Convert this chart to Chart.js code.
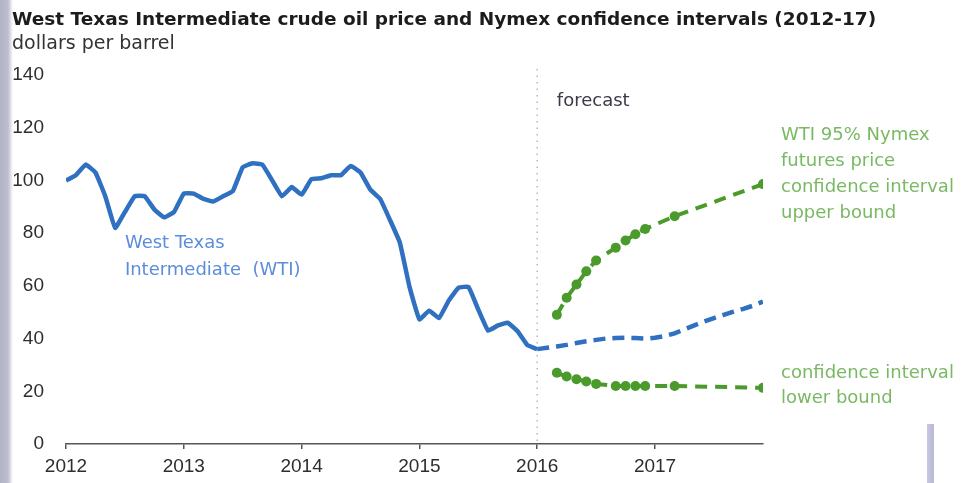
<!DOCTYPE html>
<html>
<head>
<meta charset="utf-8">
<title>WTI crude oil price and Nymex confidence intervals</title>
<script src="https://cdn.jsdelivr.net/npm/chart.js@4.4.1/dist/chart.umd.min.js"></script>
<style>
  html, body { margin: 0; padding: 0; }
  body {
    width: 963px; height: 483px; overflow: hidden;
    background: linear-gradient(to right, #b3b3c6 0, #bdbdcf 8px, #e4e4ec 11px, #ffffff 13px);
  }
  #wrap { position: relative; width: 963px; height: 483px; }
  #scanEdge {
    position: absolute; left: 927px; top: 424px; width: 7px; height: 59px;
    background: linear-gradient(to right, #c8c8e0, #b8b8d8);
  }
</style>
</head>
<body>
<div id="wrap">
  <canvas id="oilChart"></canvas>
  <div id="scanEdge"></div>
</div>
<script>
// --- data (monthly, Jan 2012 = index 0) ---
const yearLabels = ['2012', '2013', '2014', '2015', '2016', '2017'];
const yTicks = [0, 20, 40, 60, 80, 100, 120, 140];

// history, Jan 2012 .. Jan 2016
const wtiHistory = [
  100, 102, 106, 103, 94, 82, 88, 94, 94, 89, 86, 88,
  95, 95, 93, 92, 94, 96, 105, 106.5, 106, 100, 94, 97.5,
  94.6, 100.5, 100.8, 102, 102, 105.5, 103, 96.5, 93, 85, 76.5, 59.5,
  47.3, 50.6, 47.8, 54.5, 59.3, 59.6, 51, 43, 45, 46, 42.8, 37.5,
  36
];
// forecast, Jan 2016 .. Dec 2017
const wtiForecast = [
  36, 36.5, 37, 37.6, 38.3, 39, 39.5, 40, 40.2, 40.3, 40.2, 40,
  40.3, 41, 42, 43.5, 45, 46.5, 47.8, 49, 50.2, 51.3, 52.5, 54
];
const forecastStart = 48;

// Nymex 95% confidence interval, only the marked months
const ciMonths = [50, 51, 52, 53, 54, 56, 57, 58, 59, 62, 71];
const ciUpper = [49, 55.5, 60.5, 65.5, 69.6, 74.5, 77.2, 79.6, 81.6, 86.4, 98.6];
const ciLower = [27, 25.6, 24.6, 23.7, 22.8, 22, 22, 22, 22, 22, 21.3];

const blue = '#2f70c0';
const green = '#4a9a2c';

const toPoints = (xs, ys) => ys.map((v, i) => ({ x: xs[i], y: v }));
const histPoints = wtiHistory.map((v, i) => ({ x: i, y: v }));
const forePoints = wtiForecast.map((v, i) => ({ x: forecastStart + i, y: v }));

// titles, annotations and the dotted "forecast" divider
const decorations = {
  id: 'decorations',
  beforeDatasetsDraw(chart) {
    const { ctx, chartArea, scales } = chart;
    const x = scales.x.getPixelForValue(forecastStart);
    ctx.save();
    ctx.strokeStyle = '#b8b8b8';
    ctx.lineWidth = 1.5;
    ctx.setLineDash([1.5, 5]);
    ctx.beginPath();
    ctx.moveTo(x, chartArea.top - 6);
    ctx.lineTo(x, chartArea.bottom);
    ctx.stroke();
    ctx.restore();
  },
  afterDraw(chart) {
    const { ctx, chartArea, scales } = chart;
    const xs = scales.x, ys = scales.y;
    ctx.save();
    ctx.textBaseline = 'middle';
    ctx.textAlign = 'left';

    ctx.fillStyle = '#1c1c1c';
    ctx.font = 'bold 18.5px "DejaVu Sans"';
    ctx.fillText('West Texas Intermediate crude oil price and Nymex confidence intervals (2012-17)', 12, 20);
    ctx.fillStyle = '#333333';
    ctx.font = '19px "DejaVu Sans"';
    ctx.fillText('dollars per barrel', 12, 44);

    ctx.font = '18px "DejaVu Sans"';
    ctx.fillStyle = '#3a3a48';
    ctx.fillText('forecast', xs.getPixelForValue(50), ys.getPixelForValue(130));

    ctx.fillStyle = '#5b8ddb';
    let bx = xs.getPixelForValue(6), by = ys.getPixelForValue(76);
    ctx.fillText('West Texas', bx, by);
    ctx.fillText('Intermediate  (WTI)', bx, by + 27);

    ctx.fillStyle = '#79b964';
    const gx = chartArea.right + 18;
    let gy = ys.getPixelForValue(117);
    ['WTI 95% Nymex', 'futures price', 'confidence interval', 'upper bound'].forEach((t, i) => {
      ctx.fillText(t, gx, gy + i * 25.8);
    });
    gy = ys.getPixelForValue(27);
    ['confidence interval', 'lower bound'].forEach((t, i) => {
      ctx.fillText(t, gx, gy + i * 25);
    });
    ctx.restore();
  }
};

const tickFont = { family: '"Liberation Sans", Arial, sans-serif', size: 19 };

new Chart(document.getElementById('oilChart'), {
  type: 'line',
  data: {
    datasets: [
      { label: 'WTI', data: histPoints, borderColor: blue, borderWidth: 4.5, pointRadius: 0,
        tension: 0.1 },
      { label: 'WTI forecast', data: forePoints, borderColor: blue, borderWidth: 4.5,
        borderDash: [12, 7], pointRadius: 0 },
      { label: 'upper bound', data: toPoints(ciMonths, ciUpper), borderColor: green, borderWidth: 4,
        borderDash: [12, 8], pointRadius: 5, pointBackgroundColor: green, pointBorderWidth: 0 },
      { label: 'lower bound', data: toPoints(ciMonths, ciLower), borderColor: green, borderWidth: 4,
        borderDash: [12, 8], pointRadius: 5, pointBackgroundColor: green, pointBorderWidth: 0 }
    ]
  },
  options: {
    responsive: true,
    maintainAspectRatio: false,
    animation: false,
    devicePixelRatio: 1,
    layout: { padding: { left: 12, right: 200, top: 75, bottom: 5 } },
    plugins: { legend: { display: false }, tooltip: { enabled: false } },
    scales: {
      x: {
        type: 'linear', min: 0, max: 71,
        grid: { display: true, drawOnChartArea: false, tickLength: 5, color: '#555', lineWidth: 1.5 },
        border: { display: true, color: '#555', width: 1.5 },
        ticks: {
          stepSize: 12, includeBounds: false, autoSkip: false, maxRotation: 0,
          padding: 6, font: tickFont, color: '#2e2e2e',
          callback: v => yearLabels[v / 12]
        },
        afterFit: s => { s.height = 34; }
      },
      y: {
        min: 0, max: 140,
        grid: { display: false, drawTicks: false },
        border: { display: false },
        afterBuildTicks: scale => { scale.ticks = yTicks.map(v => ({ value: v })); },
        ticks: { padding: 22, font: tickFont, color: '#2e2e2e' },
        afterFit: s => { s.width = 54; }
      }
    }
  },
  plugins: [decorations]
});
</script>
</body>
</html>
